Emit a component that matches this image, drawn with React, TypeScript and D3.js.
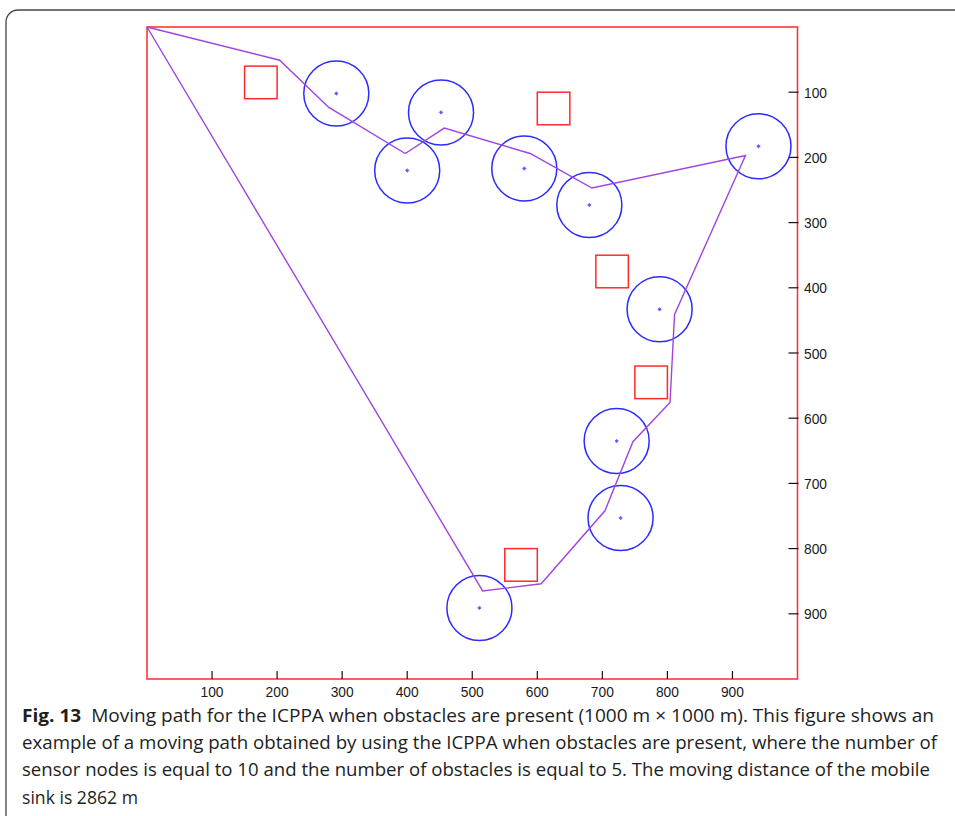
import React from "react";
import * as d3 from "d3";

// Sensor nodes (circle centers, metres) and sensing radius
const nodeX = [291, 452, 400, 580, 680, 940, 788, 722, 728, 511];
const nodeY = [102, 131, 220, 217, 273, 183, 433, 635, 753, 891];
const nodeRadius = 50;

// Obstacles (top-left corner, metres) and size
const obstacleX = [150, 600, 690, 750, 550];
const obstacleY = [60, 100, 350, 520, 800];
const obstacleSize = 50;

// Moving path of the mobile sink (closed loop)
const pathX = [0, 204, 279, 397, 457, 589, 684, 920, 811, 804, 747, 704, 606, 516, 0];
const pathY = [0, 51, 123, 194, 155, 194, 247, 197, 441, 576, 636, 742, 854, 865, 0];

const xTicks = [100, 200, 300, 400, 500, 600, 700, 800, 900];
const yTicks = [100, 200, 300, 400, 500, 600, 700, 800, 900];

const captionLines = [
  { bold: "Fig. 13", text: "\u00a0\u00a0Moving path for the ICPPA when obstacles are present (1000 m \u00d7 1000 m). This figure shows an" },
  { bold: "", text: "example of a moving path obtained by using the ICPPA when obstacles are present, where the number of" },
  { bold: "", text: "sensor nodes is equal to 10 and the number of obstacles is equal to 5. The moving distance of the mobile" },
  { bold: "", text: "sink is 2862 m" },
];
const captionWidths = [912, 915, 908, 116];

export default function App() {
  const x = d3.scaleLinear().domain([0, 1000]).range([147, 797.5]);
  const y = d3.scaleLinear().domain([0, 1000]).range([27, 679]);

  const pts: [number, number][] = pathX.map((v, i) => [v, pathY[i]]);
  const line = d3
    .line<[number, number]>()
    .x((d) => x(d[0]))
    .y((d) => y(d[1]));

  const rPx = x(nodeRadius) - x(0);
  const sPx = x(obstacleSize) - x(0);
  const sPy = y(obstacleSize) - y(0);

  const tickFont = "'Liberation Sans', Arial, sans-serif";

  return (
    <svg
      width={955}
      height={816}
      style={{ position: "absolute", left: 0, top: 0, background: "#fff" }}
    >
      <rect x={6} y={10} width={970} height={820} rx={12} ry={12} fill="#fff" stroke="#444" strokeWidth={1.3} />

      {/* frame */}
      <rect
        x={x(0)}
        y={y(0)}
        width={x(1000) - x(0)}
        height={y(1000) - y(0)}
        fill="none"
        stroke="#ff2a2a"
        strokeWidth={1.5}
      />

      {/* x ticks */}
      {xTicks.map((t) => (
        <g key={"xt" + t}>
          <line x1={x(t)} x2={x(t)} y1={y(1000) - 8} y2={y(1000)} stroke="#111" strokeWidth={1.2} />
          <text
            x={x(t) - 11.5}
            y={697}
            textAnchor="start"
            fontFamily={tickFont}
            fontSize={15.5}
            fill="#1a1a1a"
            textLength={23}
            lengthAdjust="spacingAndGlyphs"
          >
            {t}
          </text>
        </g>
      ))}

      {/* y ticks */}
      {yTicks.map((t) => (
        <g key={"yt" + t}>
          <line x1={x(1000) - 9} x2={x(1000) + 1} y1={y(t)} y2={y(t)} stroke="#111" strokeWidth={1.2} />
          <text
            x={804}
            y={y(t) + 5.5}
            textAnchor="start"
            fontFamily={tickFont}
            fontSize={15.5}
            fill="#1a1a1a"
            textLength={23}
            lengthAdjust="spacingAndGlyphs"
          >
            {t}
          </text>
        </g>
      ))}

      {/* obstacles */}
      {obstacleX.map((ox, i) => (
        <rect
          key={"ob" + i}
          x={x(ox)}
          y={y(obstacleY[i])}
          width={sPx}
          height={sPy}
          fill="none"
          stroke="#ff2a2a"
          strokeWidth={1.5}
        />
      ))}

      {/* sensor nodes */}
      {nodeX.map((nx, i) => (
        <g key={"n" + i}>
          <circle cx={x(nx)} cy={y(nodeY[i])} r={rPx} fill="none" stroke="#2b2bff" strokeWidth={1.5} />
          <path
            d={`M${x(nx)},${y(nodeY[i]) - 1.8}L${x(nx) + 1.8},${y(nodeY[i])}L${x(nx)},${y(nodeY[i]) + 1.8}L${x(nx) - 1.8},${y(nodeY[i])}Z`}
            fill="#5a5aff"
            stroke="#5a5aff"
            strokeWidth={0.6}
          />
        </g>
      ))}

      {/* moving path */}
      <path d={line(pts) || ""} fill="none" stroke="#a044e0" strokeWidth={1.4} />

      {/* caption */}
      {captionLines.map((c, i) => (
        <text
          key={"cap" + i}
          x={22}
          y={722 + i * 27.2}
          fontFamily="Liberation Sans Narrow, Open Sans, Liberation Sans, sans-serif"
          fontSize={18}
          fill="#1e1e1e"
          textLength={captionWidths[i]}
          lengthAdjust="spacingAndGlyphs"
        >
          {c.bold ? <tspan fontWeight="bold">{c.bold}</tspan> : null}
          <tspan>{c.text}</tspan>
        </text>
      ))}
    </svg>
  );
}
